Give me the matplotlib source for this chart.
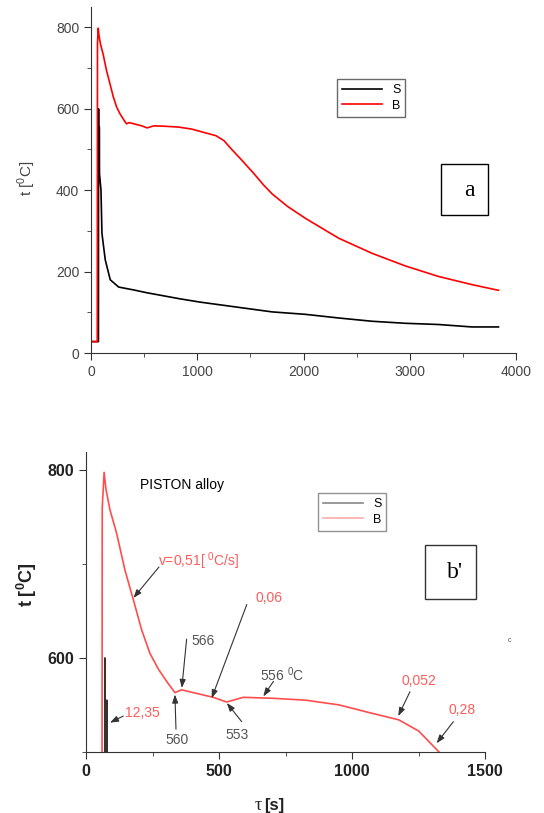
import matplotlib
matplotlib.use('Agg')
import matplotlib.pyplot as plt
from matplotlib.patches import Rectangle
from matplotlib.ticker import MultipleLocator

# cooling curves, temperature in degC vs time in s
time_B = [0, 59, 61, 68, 75, 90, 115, 146, 178, 209, 240, 272, 303, 334, 359, 478,
          528, 591, 699, 824, 949, 1074, 1175, 1250, 1325, 1404, 1529, 1620, 1704,
          1850, 2017, 2331, 2644, 2957, 3271, 3585, 3835]
temp_B = [28, 28, 760, 798, 780, 758, 733, 694, 662, 630, 605, 588, 575, 563, 566, 558,
          553, 558, 557, 555, 550, 541, 534, 522, 500, 478, 442, 414, 391,
          360, 331, 282, 245, 214, 188, 168, 154]
time_S = [0, 70, 71, 72, 77, 78, 80, 94, 103, 134, 181, 260, 400, 526, 839,
          1027, 1704, 2017, 2331, 2644, 2957, 3271, 3585, 3835]
temp_S = [28, 28, 600, 480, 480, 555, 440, 400, 294, 229, 180, 162, 155, 148, 133,
          125, 101, 95, 86, 78, 73, 70, 64, 64]

# panel b' annotations: (text, colour, text pos, arrow tail, arrow tip)
RED_T, GRAY_T = '#ff5c5c', '#555555'
notes = [
    ('v=0,51[ $^{0}$C/s]', RED_T, (270, 703), (274, 697), (178, 664)),
    ('0,06', RED_T, (635, 664), (604, 657), (472, 557)),
    ('566', GRAY_T, (397, 618), (378, 620), (360, 568)),
    ('560', GRAY_T, (297, 513), (338, 524), (334, 561)),
    ('553', GRAY_T, (522, 518), (585, 532), (529, 552)),
    ('556 $^{0}$C', GRAY_T, (655, 582), (704, 575), (666, 559)),
    ('12,35', RED_T, (146, 541), (140, 538), (90, 531)),
    ('0,052', RED_T, (1186, 575), (1217, 564), (1173, 538)),
    ('0,28', RED_T, (1360, 545), (1380, 532), (1317, 509)),
]

plt.rcParams.update({
    'font.family': 'Liberation Sans', 'mathtext.fontset': 'custom',
    'mathtext.rm': 'Liberation Sans', 'mathtext.bf': 'Liberation Sans:bold',
})

W, H = 544, 813
fig = plt.figure(figsize=(W / 100, H / 100), dpi=100)


def fx(px):
    return px / W


def fy(py):
    return 1 - py / H


# ── panel a
ax1 = fig.add_axes([fx(91), fy(353), fx(516 - 91), (353 - 7) / H])
ax1.plot(time_S, temp_S, color='black', lw=1.2, label='S')
ax1.plot(time_B, temp_B, color='red', lw=1.2, label='B')
ax1.set_xlim(0, 4000)
ax1.set_ylim(0, 850)
ax1.xaxis.set_major_locator(MultipleLocator(1000))
ax1.xaxis.set_minor_locator(MultipleLocator(500))
ax1.yaxis.set_major_locator(MultipleLocator(200))
ax1.yaxis.set_minor_locator(MultipleLocator(100))
for s in ('top', 'right'):
    ax1.spines[s].set_visible(False)
for s in ('left', 'bottom'):
    ax1.spines[s].set_color('#333333')
ax1.tick_params(which='major', direction='out', length=5, color='#333333',
                labelsize=10, labelcolor='#444444')
ax1.tick_params(which='minor', direction='out', length=3, color='#333333')
fig.text(fx(27), fy(178), 't [$^{0}$C]', rotation=90, ha='center', va='center',
         fontsize=11, color='#444444')
leg1 = ax1.legend(loc='upper left', bbox_to_anchor=(fx(337), fy(79)),
                  bbox_transform=fig.transFigure, borderaxespad=0, fancybox=False,
                  edgecolor='#444444', fontsize=9, handlelength=3.2,
                  labelspacing=0.3, borderpad=0.4)
leg1.get_frame().set_linewidth(1.0)
fig.patches.append(Rectangle((fx(441), fy(215)), fx(488 - 441), (215 - 164) / H,
                             transform=fig.transFigure, fill=False,
                             edgecolor='black', lw=1))
fig.text(fx(469), fy(190), 'a', ha='center', va='center', fontsize=17,
         family='Liberation Serif')

# ── panel b'
ax2 = fig.add_axes([fx(86), fy(751.7), fx(485.3 - 86), 300 / H])
ax2.plot(time_S, temp_S, color='#333333', lw=1.2, label='S')
ax2.plot(time_B, temp_B, color='#ff4d4d', lw=1.2, label='B')
ax2.set_xlim(0, 1500)
ax2.set_ylim(500, 820)
ax2.xaxis.set_major_locator(MultipleLocator(500))
ax2.xaxis.set_minor_locator(MultipleLocator(250))
ax2.yaxis.set_major_locator(MultipleLocator(200))
ax2.yaxis.set_minor_locator(MultipleLocator(100))
for s in ('top', 'right'):
    ax2.spines[s].set_visible(False)
for s in ('left', 'bottom'):
    ax2.spines[s].set_color('#333333')
ax2.tick_params(which='major', direction='out', length=5, color='#333333',
                labelsize=11.5, labelcolor='#222222')
ax2.tick_params(which='minor', direction='out', length=3, color='#333333')
for lab in ax2.get_xticklabels() + ax2.get_yticklabels():
    lab.set_fontweight('bold')
fig.text(fx(27), fy(585), 't [$\\mathbf{^{0}}$C]', rotation=90, ha='center',
         va='center', fontsize=13, fontweight='bold', color='#222222')
fig.text(fx(262), fy(805), '\u03c4', ha='right', va='center', fontsize=13,
         family='Liberation Serif', color='#222222')
fig.text(fx(264), fy(805), '[s]', ha='left', va='center', fontsize=12,
         fontweight='bold', color='#222222')
ax2.text(203, 785, 'PISTON alloy', ha='left', va='center', fontsize=10,
         color='black')
for txt, col, pos, tail, tip in notes:
    ax2.text(pos[0], pos[1], txt, color=col, fontsize=10, ha='left', va='center')
    ax2.annotate('', xy=tip, xytext=tail,
                 arrowprops=dict(arrowstyle='-|>,head_length=0.5,head_width=0.18',
                                 color='#333333', lw=0.8, shrinkA=0, shrinkB=0))
leg2 = ax2.legend(loc='upper left', bbox_to_anchor=(fx(318), fy(493)),
                  bbox_transform=fig.transFigure, borderaxespad=0, fancybox=False,
                  edgecolor='#777777', fontsize=9, handlelength=3.2,
                  labelspacing=0.3, borderpad=0.4)
leg2.get_lines()[0].set_color('#888888')
leg2.get_lines()[1].set_color('#ffaaaa')
fig.patches.append(Rectangle((fx(425), fy(599)), fx(476 - 425), (599 - 545) / H,
                             transform=fig.transFigure, fill=False,
                             edgecolor='#333333', lw=1))
fig.text(fx(455), fy(572), "b'", ha='center', va='center', fontsize=17,
         family='Liberation Serif')
fig.text(fx(510), fy(640), 'c', ha='center', va='center', fontsize=5,
         color='#555555')

fig.savefig('out.png', dpi=100)
